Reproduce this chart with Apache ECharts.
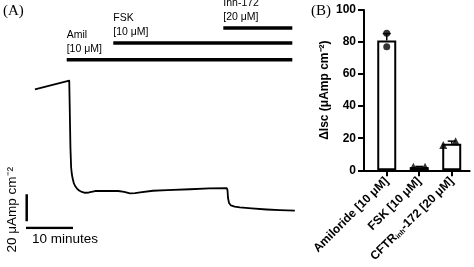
<!DOCTYPE html>
<html><head><meta charset="utf-8">
<script src="https://cdn.jsdelivr.net/npm/echarts@6/dist/echarts.min.js"></script>
<style>html,body{margin:0;padding:0;background:#fff}#c{width:474px;height:267px}</style>
</head><body><div id="c"></div>
<script>
// ---------- Panel A: Ussing chamber trace ----------
const traceTime = [1.9, 9.2, 9.3, 9.45, 9.6, 9.75, 9.9, 10.15, 10.45, 10.85, 11.3, 11.9, 12.55, 13.4, 14.7, 17, 19.6, 20.9, 22.1, 23.2, 24.3, 27, 30, 34.9, 39, 42.7, 42.87, 42.98, 43.2, 43.6, 44.4, 45.5, 48, 51.2, 54, 57.2];
const traceCurrent = [102.7, 109.1, 90, 60, 45, 40, 37, 33.5, 31.1, 29.2, 27.8, 26.7, 26.1, 26.3, 27.4, 27.5, 27.4, 26.7, 25.7, 25.9, 26.4, 27.6, 28.1, 28.7, 29.3, 29.6, 28.1, 22.2, 18.5, 16.7, 15.9, 15.3, 14.5, 13.7, 13.2, 12.8];
const treatNames = ['Amil', 'FSK', 'Inh-172'];
const treatConc = ['[10 μM]', '[10 μM]', '[20 μM]'];
const treatStart = [8.66, 18.57, 41.98];
const treatEnd = [56.66, 56.66, 56.66];
const treatLevel = [124.7, 137, 148.1];
const scaleBarTime = [0, 10];      // minutes
const scaleBarCurrent = [5, 25];   // 20 µAmp cm^-2

// ---------- Panel B: bar chart ----------
const categories = ['Amiloride [10 μM]', 'FSK [10 μM]', 'CFTRinh-172 [20 μM]'];
const catPos = [0.7, 1.7, 2.7];
const barMeans = [81, 2, 16.5];
const errHigh = [85.3, 2.4, 18.2];
const amilPoints = [85.5, 77];
const fskPoints = [2.2, 2.2];
const cftrPoints = [15.8, 18.2];
const yTicksB = [0, 20, 40, 60, 80, 100];

const F = 'Liberation Sans, Arial, sans-serif';
const chart = echarts.init(document.getElementById('c'), null, {renderer: 'canvas'});

const trace = traceTime.map((t, i) => [t, traceCurrent[i]]);
const treatSeries = treatNames.map((n, i) => ({
  type: 'line', xAxisIndex: 0, yAxisIndex: 0, symbol: 'none', silent: true,
  data: [[treatStart[i], treatLevel[i]], [treatEnd[i], treatLevel[i]]],
  lineStyle: {color: '#000', width: 3.5, cap: 'butt'}
}));

const errorSeries = {
  type: 'custom', xAxisIndex: 1, yAxisIndex: 1, silent: true,
  data: catPos.map((x, i) => [x, barMeans[i], errHigh[i]]),
  renderItem: (params, api) => {
    const x = api.value(0);
    const p0 = api.coord([x, api.value(1)]);
    const p1 = api.coord([x, api.value(2)]);
    return {type: 'group', children: [
      {type: 'line', shape: {x1: p0[0], y1: p0[1], x2: p1[0], y2: p1[1]}, style: {stroke: '#000', lineWidth: 1.5}},
      {type: 'line', shape: {x1: p1[0] - 4, y1: p1[1], x2: p1[0] + 4, y2: p1[1]}, style: {stroke: '#000', lineWidth: 1.5}}
    ]};
  }
};

function catLabel(v) {
  let idx = catPos.findIndex(p => Math.abs(p - v) < 0.05);
  if (idx < 0) return '';
  if (idx === 2) return '{a|CFTR}{s|inh}{a|-172 [20 μM]}';
  return '{a|' + categories[idx] + '}';
}

chart.setOption({
  animation: false,
  backgroundColor: '#fff',
  grid: [
    {left: 26, top: 12, width: 282, height: 216},
    {left: 364, top: 10, width: 105.6, height: 160.3}
  ],
  xAxis: [
    {gridIndex: 0, type: 'value', min: 0, max: 60, show: false},
    {gridIndex: 1, type: 'value', min: 0, max: 3.25,
      axisLine: {show: true, lineStyle: {color: '#000', width: 2}},
      splitLine: {show: false},
      axisTick: {show: true, customValues: catPos, length: 6, lineStyle: {color: '#000', width: 2}},
      axisLabel: {show: true, customValues: catPos, rotate: 45, margin: 9, formatter: catLabel,
        rich: {a: {fontFamily: F, fontWeight: 'bold', fontSize: 12, color: '#000'},
               s: {fontFamily: F, fontWeight: 'bold', fontSize: 7, color: '#000', verticalAlign: 'bottom'}}}
    }
  ],
  yAxis: [
    {gridIndex: 0, type: 'value', min: 0, max: 160, show: false},
    {gridIndex: 1, type: 'value', min: 0, max: 100, interval: 20,
      name: 'ΔIsc (μAmp cm⁻²)', nameLocation: 'middle', nameGap: 33,
      nameTextStyle: {fontFamily: F, fontWeight: 'bold', fontSize: 12, color: '#000'},
      axisLine: {show: true, lineStyle: {color: '#000', width: 2}},
      axisTick: {show: true, length: 6, lineStyle: {color: '#000', width: 2}},
      splitLine: {show: false},
      axisLabel: {margin: 8, fontFamily: F, fontWeight: 'bold', fontSize: 12, color: '#000'}
    }
  ],
  series: [
    {type: 'line', xAxisIndex: 0, yAxisIndex: 0, symbol: 'none', data: trace, silent: true,
      lineStyle: {color: '#000', width: 1.8, join: 'round'}},
    ...treatSeries,
    {type: 'line', xAxisIndex: 0, yAxisIndex: 0, symbol: 'none', silent: true,
      data: [[scaleBarTime[0], 0], [scaleBarTime[1], 0]], lineStyle: {color: '#000', width: 2.5, cap: 'butt'}},
    {type: 'line', xAxisIndex: 0, yAxisIndex: 0, symbol: 'none', silent: true,
      data: [[0.15, scaleBarCurrent[0]], [0.15, scaleBarCurrent[1]]], lineStyle: {color: '#000', width: 2.5, cap: 'butt'}},
    {type: 'bar', xAxisIndex: 1, yAxisIndex: 1, barWidth: 19, silent: true,
      data: catPos.map((x, i) => [x, barMeans[i]]),
      itemStyle: {color: '#fff', borderColor: '#000', borderWidth: 2}},
    errorSeries,
    {type: 'scatter', xAxisIndex: 1, yAxisIndex: 1, symbol: 'circle', symbolSize: 7, silent: true,
      itemStyle: {color: '#000'}, data: amilPoints.map(v => [catPos[0], v])},
    {type: 'scatter', xAxisIndex: 1, yAxisIndex: 1, symbol: 'triangle', symbolSize: 8, silent: true,
      itemStyle: {color: '#000'}, data: fskPoints.map((v, i) => [catPos[1] + (i ? 0.18 : -0.18), v])},
    {type: 'scatter', xAxisIndex: 1, yAxisIndex: 1, symbol: 'triangle', symbolSize: 8, silent: true,
      itemStyle: {color: '#000'}, data: cftrPoints.map((v, i) => [catPos[2] + (i ? 0.12 : -0.26), v])}
  ]
});

// text annotations placed through the grid's own scale
const g = [];
treatNames.forEach((n, i) => {
  const p = chart.convertToPixel({gridIndex: 0}, [treatStart[i], treatLevel[i]]);
  g.push({type: 'text', x: p[0], y: p[1] - 4, style: {text: n + '\n' + treatConc[i], fontFamily: F, fontSize: 10.5, lineHeight: 14, fill: '#000', textAlign: 'left', textVerticalAlign: 'bottom'}});
});
const sb = chart.convertToPixel({gridIndex: 0}, [scaleBarTime[0], 0]);
g.push({type: 'text', x: sb[0] + 6, y: sb[1] + 4, style: {text: '10 minutes', fontFamily: F, fontSize: 13.5, fill: '#000', textAlign: 'left', textVerticalAlign: 'top'}});
const sv = chart.convertToPixel({gridIndex: 0}, [0, (scaleBarCurrent[0] + scaleBarCurrent[1]) / 2]);
g.push({type: 'text', x: 12, y: sv[1] + 2, rotation: Math.PI / 2, style: {text: '20 μAmp cm⁻²', fontFamily: F, fontSize: 13.5, fill: '#000', textAlign: 'center', textVerticalAlign: 'middle'}});
g.push({type: 'text', x: 3, y: 11, style: {text: '(A)', fontFamily: 'Liberation Serif, Times New Roman, serif', fontSize: 15, fill: '#000', textVerticalAlign: 'middle'}});
g.push({type: 'text', x: 311, y: 11, style: {text: '(B)', fontFamily: 'Liberation Serif, Times New Roman, serif', fontSize: 15, fill: '#000', textVerticalAlign: 'middle'}});
chart.setOption({graphic: g});
</script>
</body></html>
